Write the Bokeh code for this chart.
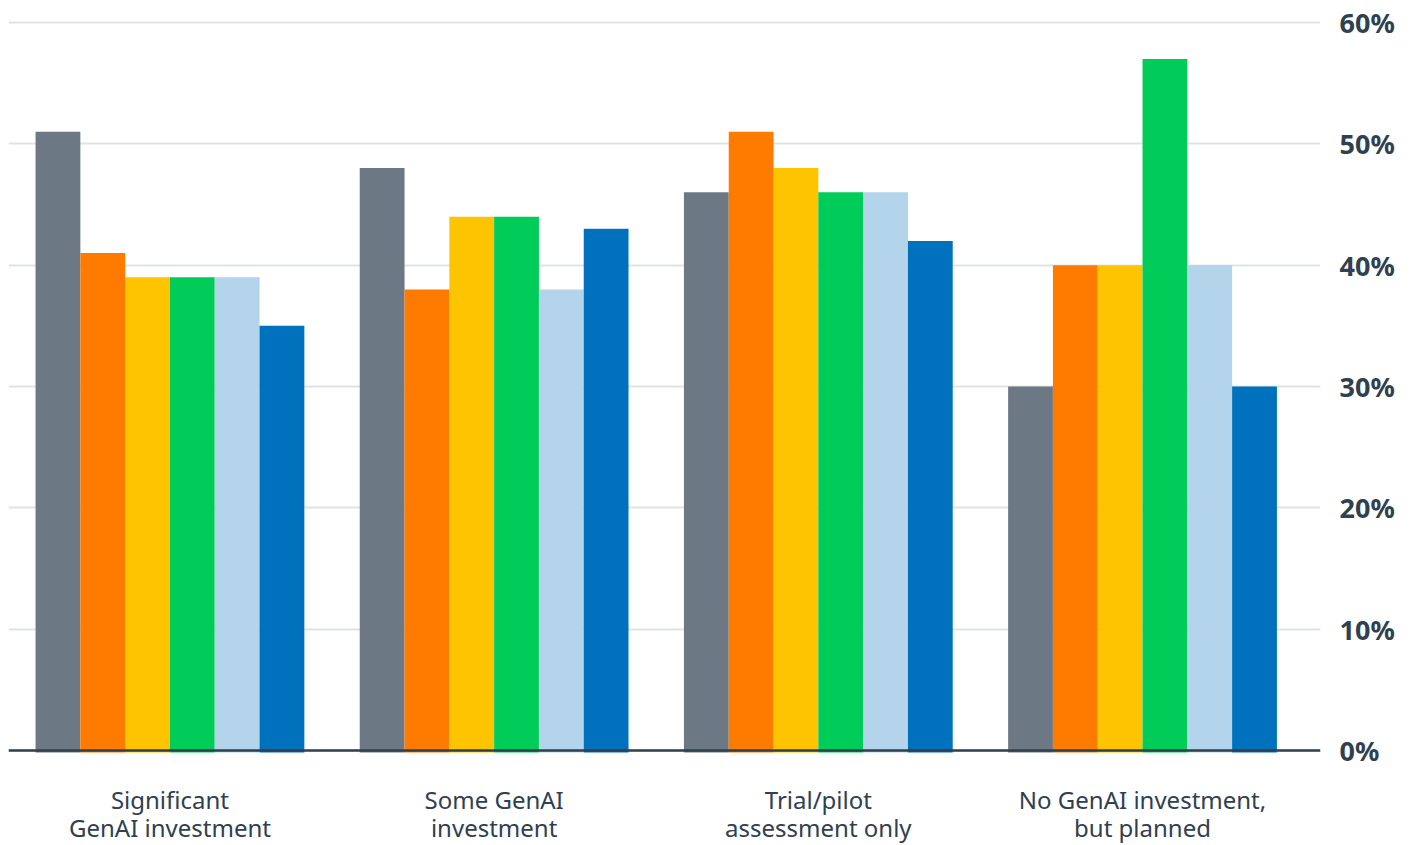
import numpy as np
from bokeh.plotting import figure
from bokeh.models import ColumnDataSource, FixedTicker, PrintfTickFormatter, Span, Range1d
from bokeh.core.properties import value
from bokeh.embed import file_html
from bokeh.resources import INLINE

categories = ["Significant\nGenAI investment", "Some GenAI\ninvestment",
              "Trial/pilot\nassessment only", "No GenAI investment,\nbut planned"]
series_names = ["S1", "S2", "S3", "S4", "S5", "S6"]
series_colors = ["#6c7883", "#ff7b00", "#ffc400", "#00cc5a", "#b3d4ea", "#0071bd"]
values = [
    [51, 48, 46, 30],
    [41, 38, 51, 40],
    [39, 44, 48, 40],
    [39, 44, 46, 57],
    [39, 38, 46, 40],
    [35, 43, 42, 30],
]
y_ticks = [0, 10, 20, 30, 40, 50, 60]

TEXT = "#2f4050"
FONT = "Noto Sans"

px_per_unit = 728 / 60.0
p = figure(width=1405, height=845, output_backend="svg", toolbar_location=None,
           x_range=Range1d(-0.498, 3.549),
           y_range=Range1d(-95 / px_per_unit, 60 + 14 / px_per_unit),
           y_axis_location="right",
           min_border_left=8, min_border_top=8, min_border_bottom=0, min_border_right=85)
p.outline_line_color = None
p.xaxis.visible = False
p.xgrid.visible = False
p.ygrid.ticker = FixedTicker(ticks=y_ticks)
p.ygrid.grid_line_color = "#dfe3e6"
p.ygrid.grid_line_width = 2

ax = p.yaxis[0]
ax.ticker = FixedTicker(ticks=y_ticks)
ax.formatter = PrintfTickFormatter(format="%d%%")
ax.axis_line_color = None
ax.major_tick_line_color = None
ax.minor_tick_line_color = None
ax.major_label_standoff = 13
ax.major_label_text_font = FONT
ax.major_label_text_font_style = "bold"
ax.major_label_text_font_size = "27px"
ax.major_label_text_color = TEXT

bar_w = 44.8 / 324.2
gx = np.arange(len(categories))
for j, (name, col) in enumerate(zip(series_names, series_colors)):
    src = ColumnDataSource(dict(x=gx + (j - 2.5) * bar_w, top=values[j]))
    p.vbar(x="x", top="top", bottom=-0.17, width=bar_w, source=src,
           fill_color=col, line_color=None)

baseline = Span(location=0, dimension="width", line_color="#2f3f4e", line_width=2.5, level="overlay")
p.add_layout(baseline)

lab = ColumnDataSource(dict(x=gx, y=[-63 / px_per_unit] * len(categories), t=categories))
p.text(x="x", y="y", text="t", source=lab, text_align="center", text_baseline="middle",
       text_font=value(FONT), text_font_size="24px", text_color=TEXT, text_line_height=0.86)

open("out.html", "w").write(file_html(p, INLINE))
